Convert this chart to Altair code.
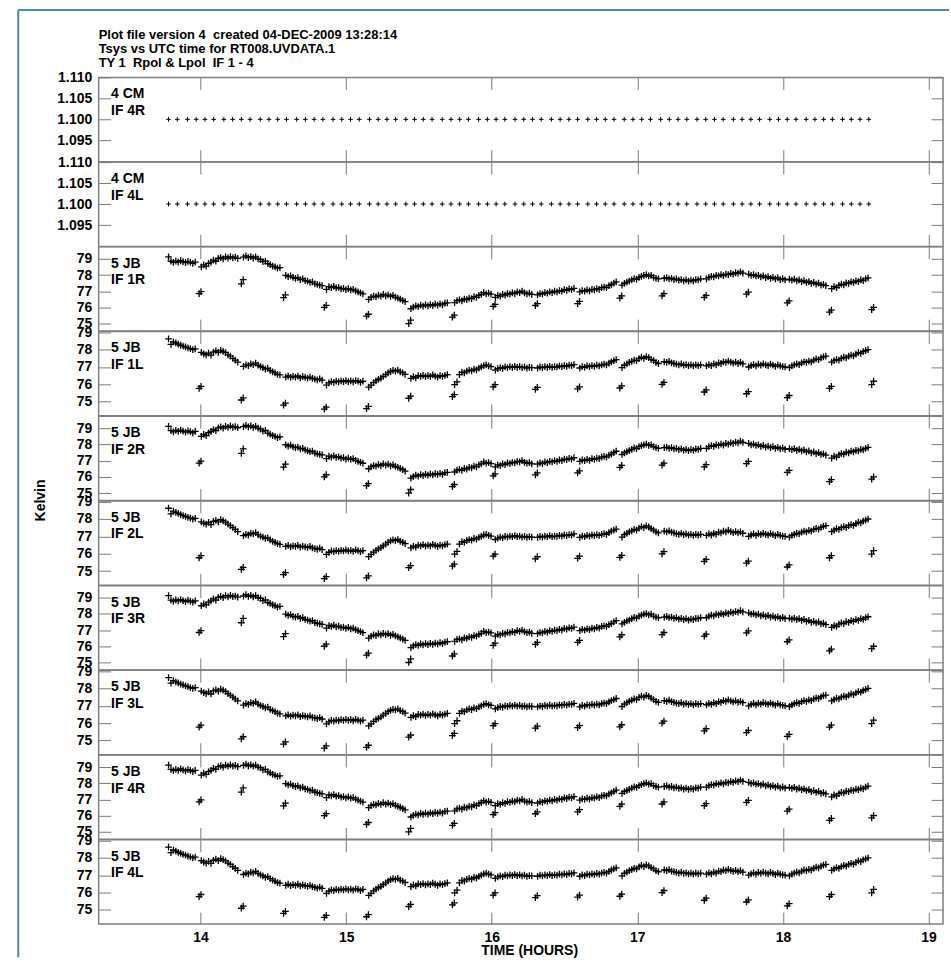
import altair as alt
import pandas as pd

FONT = "Liberation Sans"

TITLE_LINES = ["Plot file version 4\u00a0 created 04-DEC-2009 13:28:14",
               "Tsys vs UTC time for RT008.UVDATA.1",
               "TY 1\u00a0 Rpol & Lpol\u00a0 IF 1 - 4"]
PANEL_BAND = ["4 CM", "4 CM", "5 JB", "5 JB", "5 JB", "5 JB", "5 JB", "5 JB", "5 JB", "5 JB"]
PANEL_IF = ["IF 4R", "IF 4L", "IF 1R", "IF 1L", "IF 2R", "IF 2L", "IF 3R", "IF 3L", "IF 4R", "IF 4L"]
PANEL_KIND = ["CM", "CM", "R", "L", "R", "L", "R", "L", "R", "L"]

X_TICKS = [14, 15, 16, 17, 18, 19]
X_DOMAIN = [13.3, 19.1]
CM_TICKS = [1.095, 1.100, 1.105, 1.110]
CM_DOMAIN = [1.0899, 1.110]
R_DOMAIN = [74.54, 79.74]
L_DOMAIN = [74.19, 79.04]
JB_TICKS = [75, 76, 77, 78, 79]

# 4 CM channels: constant Tsys of 1.100
CM_TIMES = [13.78, 13.84, 13.91, 13.97, 14.03, 14.09, 14.16, 14.22, 14.28, 14.34,
            14.41, 14.47, 14.53, 14.59, 14.66, 14.72, 14.78, 14.84, 14.91, 14.97,
            15.03, 15.09, 15.16, 15.22, 15.28, 15.34, 15.41, 15.47, 15.53, 15.59,
            15.66, 15.72, 15.78, 15.84, 15.91, 15.97, 16.03, 16.09, 16.16, 16.22,
            16.28, 16.34, 16.41, 16.47, 16.53, 16.59, 16.66, 16.72, 16.78, 16.84,
            16.91, 16.97, 17.03, 17.09, 17.16, 17.22, 17.28, 17.34, 17.41, 17.47,
            17.53, 17.59, 17.66, 17.72, 17.78, 17.84, 17.91, 17.97, 18.03, 18.09,
            18.16, 18.22, 18.28, 18.34, 18.41, 18.47, 18.53, 18.59]
CM_VALUE = 1.100

# 5 JB channels: scans sampled once a minute, separated by low single records
SEG_START = [13.78, 14.005, 14.295, 14.585, 14.865, 15.155, 15.445, 15.745, 16.025,
             16.315, 16.605, 16.895, 17.185, 17.475, 17.765, 18.045, 18.335]
SAMPLE_STEP_HR = 1 / 60

R_SEGS = [
    [79.12, 78.85, 78.78, 78.86, 78.80, 78.88, 78.82, 78.76, 78.84, 78.79, 78.72, 78.80],
    [78.50, 78.62, 78.55, 78.72, 78.80, 78.92, 78.85, 79.02, 79.08, 79.00, 79.12, 79.05, 79.14, 79.06, 79.10, 79.03],
    [79.10, 79.18, 79.08, 79.14, 79.05, 79.12, 79.00, 78.95, 78.82, 78.86, 78.70, 78.64, 78.55, 78.50, 78.42, 78.46],
    [77.98, 77.90, 77.95, 77.85, 77.80, 77.84, 77.72, 77.76, 77.66, 77.62, 77.55, 77.58, 77.46, 77.42, 77.38, 77.35],
    [77.12, 77.28, 77.22, 77.30, 77.20, 77.24, 77.15, 77.18, 77.10, 77.16, 77.08, 77.12, 77.02, 76.96, 76.90, 76.84],
    [76.50, 76.62, 76.70, 76.66, 76.76, 76.70, 76.80, 76.72, 76.78, 76.68, 76.74, 76.64, 76.58, 76.52, 76.44, 76.36],
    [75.92, 76.02, 76.10, 76.05, 76.14, 76.08, 76.16, 76.10, 76.18, 76.12, 76.20, 76.15, 76.22, 76.16, 76.26, 76.28],
    [76.30, 76.42, 76.46, 76.40, 76.52, 76.48, 76.58, 76.55, 76.66, 76.62, 76.74, 76.80, 76.92, 76.84, 76.88, 76.82],
    [76.62, 76.74, 76.70, 76.80, 76.76, 76.86, 76.82, 76.90, 76.86, 76.96, 76.92, 77.00, 76.90, 76.84, 76.88, 76.80],
    [76.78, 76.86, 76.82, 76.92, 76.88, 76.96, 76.92, 77.00, 76.96, 77.04, 77.00, 77.10, 77.06, 77.14, 77.10, 77.18],
    [76.96, 77.04, 77.00, 77.08, 77.02, 77.12, 77.08, 77.16, 77.12, 77.22, 77.26, 77.22, 77.34, 77.40, 77.50, 77.58],
    [77.38, 77.48, 77.56, 77.62, 77.70, 77.78, 77.74, 77.86, 77.92, 77.98, 78.02, 77.94, 77.98, 77.86, 77.80, 77.76],
    [77.80, 77.84, 77.76, 77.80, 77.72, 77.76, 77.68, 77.72, 77.64, 77.70, 77.62, 77.68, 77.64, 77.72, 77.70, 77.76],
    [77.76, 77.86, 77.92, 77.88, 77.98, 77.94, 78.02, 77.96, 78.06, 78.02, 78.10, 78.06, 78.14, 78.10, 78.20, 78.12],
    [78.06, 77.98, 78.02, 77.94, 77.98, 77.88, 77.94, 77.84, 77.90, 77.80, 77.86, 77.76, 77.82, 77.72, 77.78, 77.70],
    [77.74, 77.68, 77.74, 77.64, 77.70, 77.60, 77.66, 77.54, 77.60, 77.48, 77.54, 77.44, 77.50, 77.38, 77.42, 77.34],
    [77.16, 77.28, 77.22, 77.36, 77.44, 77.40, 77.52, 77.48, 77.58, 77.54, 77.64, 77.60, 77.70, 77.66, 77.76, 77.82],
]
L_SEGS = [
    [78.62, 78.30, 78.45, 78.38, 78.32, 78.25, 78.20, 78.15, 78.10, 78.05, 78.00, 78.04],
    [77.84, 77.76, 77.70, 77.80, 77.68, 77.86, 77.92, 77.84, 77.96, 77.90, 77.82, 77.70, 77.62, 77.50, 77.40, 77.28],
    [77.04, 77.12, 77.08, 77.18, 77.14, 77.22, 77.10, 77.02, 76.96, 76.88, 76.92, 76.80, 76.72, 76.66, 76.58, 76.54],
    [76.42, 76.48, 76.40, 76.46, 76.42, 76.48, 76.38, 76.44, 76.40, 76.36, 76.42, 76.34, 76.30, 76.26, 76.32, 76.24],
    [75.96, 76.08, 76.16, 76.12, 76.18, 76.14, 76.20, 76.16, 76.22, 76.16, 76.20, 76.14, 76.22, 76.18, 76.12, 76.18],
    [75.84, 75.96, 76.10, 76.20, 76.28, 76.36, 76.46, 76.56, 76.66, 76.74, 76.80, 76.76, 76.82, 76.72, 76.66, 76.58],
    [76.34, 76.44, 76.38, 76.50, 76.46, 76.52, 76.44, 76.50, 76.46, 76.54, 76.48, 76.42, 76.50, 76.46, 76.52, 76.56],
    [75.98, 76.14, 76.56, 76.70, 76.66, 76.76, 76.82, 76.78, 76.88, 76.84, 76.94, 77.00, 77.08, 77.12, 77.06, 77.02],
    [76.82, 76.90, 76.96, 76.92, 77.00, 76.96, 77.02, 76.98, 77.04, 76.98, 77.02, 76.96, 77.00, 76.94, 76.98, 76.96],
    [76.94, 77.00, 76.96, 77.02, 76.98, 77.04, 76.98, 77.02, 77.00, 77.06, 77.02, 77.08, 77.04, 77.10, 77.08, 77.14],
    [76.94, 77.02, 76.98, 77.06, 77.02, 77.08, 77.04, 77.10, 77.06, 77.12, 77.16, 77.12, 77.22, 77.30, 77.36, 77.42],
    [76.96, 77.10, 77.18, 77.26, 77.32, 77.40, 77.36, 77.48, 77.56, 77.50, 77.60, 77.54, 77.44, 77.36, 77.26, 77.20],
    [77.30, 77.26, 77.32, 77.24, 77.20, 77.16, 77.12, 77.18, 77.10, 77.14, 77.08, 77.12, 77.06, 77.12, 77.08, 77.12],
    [77.06, 77.14, 77.08, 77.18, 77.12, 77.24, 77.20, 77.30, 77.26, 77.34, 77.28, 77.22, 77.28, 77.20, 77.26, 77.18],
    [77.00, 77.08, 77.14, 77.06, 77.16, 77.10, 77.18, 77.12, 77.08, 77.16, 77.10, 77.04, 77.12, 77.06, 77.02, 77.00],
    [76.96, 77.06, 77.12, 77.18, 77.14, 77.24, 77.30, 77.26, 77.34, 77.30, 77.40, 77.46, 77.42, 77.52, 77.58, 77.62],
    [77.28, 77.36, 77.44, 77.40, 77.50, 77.56, 77.52, 77.62, 77.68, 77.64, 77.74, 77.82, 77.78, 77.88, 77.94, 78.00],
]

DIP_TIMES = [13.99, 14.28, 14.57, 14.85, 15.14, 15.43, 15.73, 16.01, 16.30,
             16.59, 16.88, 17.17, 17.46, 17.75, 18.03, 18.32, 18.61]
DIP_PAIR_DT = 0.013
R_DIPS = [(76.85, 76.97), (77.45, 77.72), (76.60, 76.78), (76.00, 76.13), (75.46, 75.58),
          (75.00, 75.22), (75.40, 75.53), (76.06, 76.19), (76.12, 76.24), (76.24, 76.37),
          (76.58, 76.71), (76.72, 76.85), (76.62, 76.75), (76.82, 76.95), (76.28, 76.40),
          (75.71, 75.83), (75.86, 76.00)]
L_DIPS = [(75.77, 75.89), (75.10, 75.22), (74.80, 74.92), (74.57, 74.69), (74.61, 74.73),
          (75.20, 75.32), (75.29, 75.41), (75.86, 75.98), (75.71, 75.83), (75.74, 75.86),
          (75.79, 75.91), (76.00, 76.12), (75.56, 75.68), (75.46, 75.58), (75.24, 75.36),
          (75.77, 75.89), (75.98, 76.18)]


def jb_frame(segs, dips):
    rows = []
    for start, seg in zip(SEG_START, segs):
        for i, v in enumerate(seg):
            rows.append({"t": start + i * SAMPLE_STEP_HR, "v": v})
    for t, (a, b) in zip(DIP_TIMES, dips):
        rows.append({"t": t, "v": a})
        rows.append({"t": t + DIP_PAIR_DT, "v": b})
    return pd.DataFrame(rows)


DF = {
    "CM": pd.DataFrame({"t": CM_TIMES, "v": [CM_VALUE] * len(CM_TIMES)}),
    "R": jb_frame(R_SEGS, R_DIPS),
    "L": jb_frame(L_SEGS, L_DIPS),
}
YDOM = {"CM": CM_DOMAIN, "R": R_DOMAIN, "L": L_DOMAIN}
YTICKS = {"CM": CM_TICKS, "R": JB_TICKS, "L": JB_TICKS}
YFMT = {"CM": ".3f", "R": ".0f", "L": ".0f"}
MSIZE = {"CM": 22, "R": 46, "L": 46}
MSTROKE = {"CM": 1, "R": 1.3, "L": 1.3}

PLUS = "M-1,0L1,0M0,-1L0,1"
W, H = 847.3, 84.6
TICK_COLOR = "#7a7a7a"
BLUE = "#5582bf"


def axis(**kw):
    base = dict(domain=False, grid=False, tickColor=TICK_COLOR, tickWidth=1, tickSize=12,
                offset=-12, labelFont=FONT, labelFontSize=14, labelFontWeight="bold",
                labelColor="black", labelFlush=False)
    base.update(kw)
    return alt.Axis(**base)


one_row = pd.DataFrame({"k": [0]})


def panel(i, last):
    kind = PANEL_KIND[i]
    df = DF[kind]
    xs = alt.Scale(domain=X_DOMAIN, nice=False, zero=False)
    ys = alt.Scale(domain=YDOM[kind], nice=False, zero=False)
    if last:
        xb = alt.X("t:Q", scale=xs, title="TIME (HOURS)",
                   axis=axis(orient="bottom", values=X_TICKS, labelPadding=6,
                             titleFont=FONT, titleFontSize=14, titleFontWeight="bold",
                             titleColor="black", titlePadding=0, titleX=432))
    else:
        xb = alt.X("t:Q", scale=xs, title=None,
                   axis=axis(orient="bottom", values=X_TICKS, labels=False))
    yl = alt.Y("v:Q", scale=ys, title=None,
               axis=axis(orient="left", values=YTICKS[kind], format=YFMT[kind], labelPadding=7))
    xt = alt.X("t:Q", scale=xs, title=None, axis=axis(orient="top", values=X_TICKS, labels=False))
    yr = alt.Y("v:Q", scale=ys, title=None,
               axis=axis(orient="right", values=YTICKS[kind], labels=False))

    pts = alt.Chart(df).mark_point(shape=PLUS, size=MSIZE[kind], filled=False, color="black",
                                   strokeWidth=MSTROKE[kind], opacity=1).encode(x=xb, y=yl)
    ghost = alt.Chart(df).mark_point(shape=PLUS, size=MSIZE[kind], opacity=0).encode(x=xt, y=yr)
    label = alt.Chart(one_row).mark_text(
        text=[PANEL_BAND[i], PANEL_IF[i]], align="left", baseline="alphabetic", font=FONT,
        fontSize=14, fontWeight="bold", lineHeight=16.6, color="black"
    ).encode(x=alt.value(12.5), y=alt.value(21))
    layers = [pts, ghost, label]
    if i == 1:
        # blue page frame (left and top edges), drawn relative to this panel
        layers.append(alt.Chart(one_row).mark_rule(color=BLUE, strokeWidth=2).encode(
            x=alt.value(-80.7), y=alt.value(-152.6), y2=alt.value(798)))
        layers.append(alt.Chart(one_row).mark_rule(color=BLUE, strokeWidth=2).encode(
            x=alt.value(-80.7), x2=alt.value(853.3), y=alt.value(-152.6)))
    if i == 4:
        layers.append(alt.Chart(one_row).mark_text(
            text="Kelvin", angle=270, align="center", baseline="middle", font=FONT,
            fontSize=14, fontWeight="bold", color="black"
        ).encode(x=alt.value(-57.7), y=alt.value(H)))
    ch = alt.layer(*layers).resolve_axis(x="independent", y="independent").properties(width=W, height=H)
    if i == 0:
        ch = ch.properties(title=alt.TitleParams(
            text=TITLE_LINES, anchor="start", frame="group", font=FONT, fontSize=13,
            fontWeight="bold", color="black", lineHeight=14.5, offset=0))
    return ch


panels = [panel(i, i == len(PANEL_IF) - 1) for i in range(len(PANEL_IF))]

chart = alt.vconcat(*panels, spacing=0, bounds="flush").properties(
    padding={"left": 16, "top": 6, "right": 0, "bottom": 0},
    background="white",
).configure_view(stroke="#7f7f7f", strokeWidth=1.5)

chart.save("out.html", embed_options={"renderer": "svg", "actions": False})
